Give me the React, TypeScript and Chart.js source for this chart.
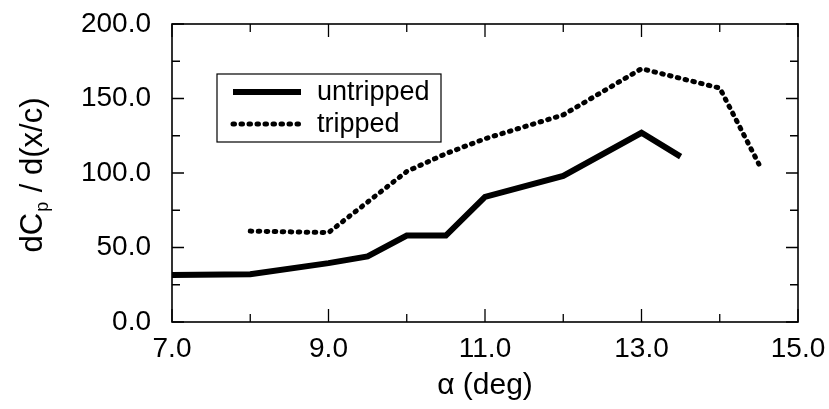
import React, { useEffect, useRef } from "react";
import { Chart, registerables } from "chart.js";

Chart.register(...registerables);

// ---- data ----
const untrippedAlpha = [7.0, 8.0, 9.0, 9.5, 10.0, 10.5, 11.0, 12.0, 13.0, 13.5];
const untrippedValues = [31.5, 32, 39.5, 44, 58, 58, 84, 98, 127, 111];
const trippedAlpha = [8.0, 9.0, 9.5, 10.0, 10.5, 11.0, 12.0, 13.0, 14.0, 14.5];
const trippedValues = [61, 60, 80.5, 101, 113, 123, 139, 170, 157, 106];
const seriesNames = ["untripped", "tripped"];
const xTitle = "α (deg)";
const yTitleParts = ["dC", "p", " / d(x/c)"];

const FONT = "'Liberation Sans', Arial, Helvetica, sans-serif";

const framePlugin = {
  id: "framePlugin",
  afterDraw(chart: any) {
    const { ctx, chartArea } = chart;
    const { left, right, top, bottom } = chartArea;
    const xs = chart.scales.x;
    const ys = chart.scales.y;
    ctx.save();
    ctx.strokeStyle = "#000";
    ctx.lineWidth = 1.6;
    ctx.strokeRect(left, top, right - left, bottom - top);
    ctx.lineWidth = 1.3;
    ctx.beginPath();
    xs.ticks.forEach((t: any) => {
      const px = xs.getPixelForValue(t.value);
      const major = Math.abs(t.value % 2) === 1;
      const len = major ? 13 : 8;
      ctx.moveTo(px, bottom);
      ctx.lineTo(px, bottom - len);
      ctx.moveTo(px, top);
      ctx.lineTo(px, top + len);
    });
    ys.ticks.forEach((t: any) => {
      const py = ys.getPixelForValue(t.value);
      const major = t.value % 50 === 0;
      const len = major ? 12 : 8;
      ctx.moveTo(left, py);
      ctx.lineTo(left + len, py);
      ctx.moveTo(right, py);
      ctx.lineTo(right - len, py);
    });
    ctx.stroke();

    // y title with subscript
    const cy = (top + bottom) / 2 + 2;
    ctx.translate(42, cy);
    ctx.rotate(-Math.PI / 2);
    ctx.fillStyle = "#000";
    ctx.textBaseline = "alphabetic";
    ctx.textAlign = "left";
    const big = `31px ${FONT}`;
    const small = `18px ${FONT}`;
    ctx.font = big;
    const w0 = ctx.measureText(yTitleParts[0]).width;
    const w2 = ctx.measureText(yTitleParts[2]).width;
    ctx.font = small;
    const w1 = ctx.measureText(yTitleParts[1]).width + 2;
    const total = w0 + w1 + w2;
    let x = -total / 2;
    ctx.font = big;
    ctx.fillText(yTitleParts[0], x, 0);
    x += w0;
    ctx.font = small;
    ctx.fillText(yTitleParts[1], x + 1, 6);
    x += w1;
    ctx.font = big;
    ctx.fillText(yTitleParts[2], x, 0);
    ctx.restore();

    // legend
    ctx.save();
    const bx = left + 45;
    const by = top + 50;
    const bw = 224;
    const bh = 68;
    ctx.strokeStyle = "#000";
    ctx.lineWidth = 1.2;
    ctx.strokeRect(bx, by, bw, bh);
    const rows = [by + 18, by + 50];
    chart.data.datasets.forEach((ds: any, i: number) => {
      ctx.beginPath();
      ctx.lineWidth = ds.borderWidth;
      ctx.lineCap = ds.borderCapStyle || "butt";
      ctx.setLineDash(ds.borderDash || []);
      ctx.moveTo(bx + 16, rows[i]);
      ctx.lineTo(bx + 84, rows[i]);
      ctx.stroke();
      ctx.setLineDash([]);
      ctx.fillStyle = "#000";
      ctx.font = `27px ${FONT}`;
      ctx.textBaseline = "middle";
      ctx.textAlign = "left";
      ctx.fillText(ds.label, bx + 100, rows[i] + 1);
    });
    ctx.restore();
  },
};

export default function App() {
  const ref = useRef<HTMLCanvasElement | null>(null);
  useEffect(() => {
    document.body.style.margin = "0";
    const canvas = ref.current!;
    const chart = new Chart(canvas, {
      type: "line",
      data: {
        datasets: [
          {
            label: seriesNames[0],
            data: untrippedAlpha.map((a, i) => ({ x: a, y: untrippedValues[i] })),
            borderColor: "#000",
            borderWidth: 6,
            borderCapStyle: "butt",
            borderJoinStyle: "miter",
            pointRadius: 0,
            tension: 0,
            fill: false,
          },
          {
            label: seriesNames[1],
            data: trippedAlpha.map((a, i) => ({ x: a, y: trippedValues[i] })),
            borderColor: "#000",
            borderWidth: 5,
            borderCapStyle: "round",
            borderDash: [1.5, 6.5],
            pointRadius: 0,
            tension: 0,
            fill: false,
          },
        ],
      },
      options: {
        responsive: false,
        animation: false,
        layout: { padding: { left: 0, right: 31, top: 24, bottom: 0 } },
        plugins: { legend: { display: false }, tooltip: { enabled: false } },
        scales: {
          x: {
            type: "linear",
            min: 7,
            max: 15,
            grid: { display: false, drawTicks: false },
            border: { display: false },
            ticks: {
              stepSize: 1,
              autoSkip: false,
              maxRotation: 0,
              padding: 10,
              color: "#000",
              font: { family: FONT, size: 28 },
              callback: (v: any) => (Math.abs(Number(v) % 2) === 1 ? Number(v).toFixed(1) : ""),
            },
            title: {
              display: true,
              text: xTitle,
              color: "#000",
              font: { family: FONT, size: 30 },
              padding: { top: 0, bottom: 5 },
            },
            afterFit: (s: any) => {
              s.height = 87;
              s.paddingLeft = 0;
              s.paddingRight = 0;
            },
          },
          y: {
            type: "linear",
            min: 0,
            max: 200,
            grid: { display: false, drawTicks: false },
            border: { display: false },
            ticks: {
              stepSize: 25,
              autoSkip: false,
              padding: 21,
              color: "#000",
              font: { family: FONT, size: 28 },
              callback: (v: any) => (Number(v) % 50 === 0 ? Number(v).toFixed(1) : ""),
            },
            afterFit: (s: any) => {
              s.width = 172;
              s.paddingTop = 0;
              s.paddingBottom = 0;
            },
          },
        },
      },
      plugins: [framePlugin],
    });
    return () => chart.destroy();
  }, []);
  return (
    <div style={{ width: 829, height: 409, background: "#fff" }}>
      <canvas ref={ref} width={829} height={409} style={{ display: "block" }} />
    </div>
  );
}
